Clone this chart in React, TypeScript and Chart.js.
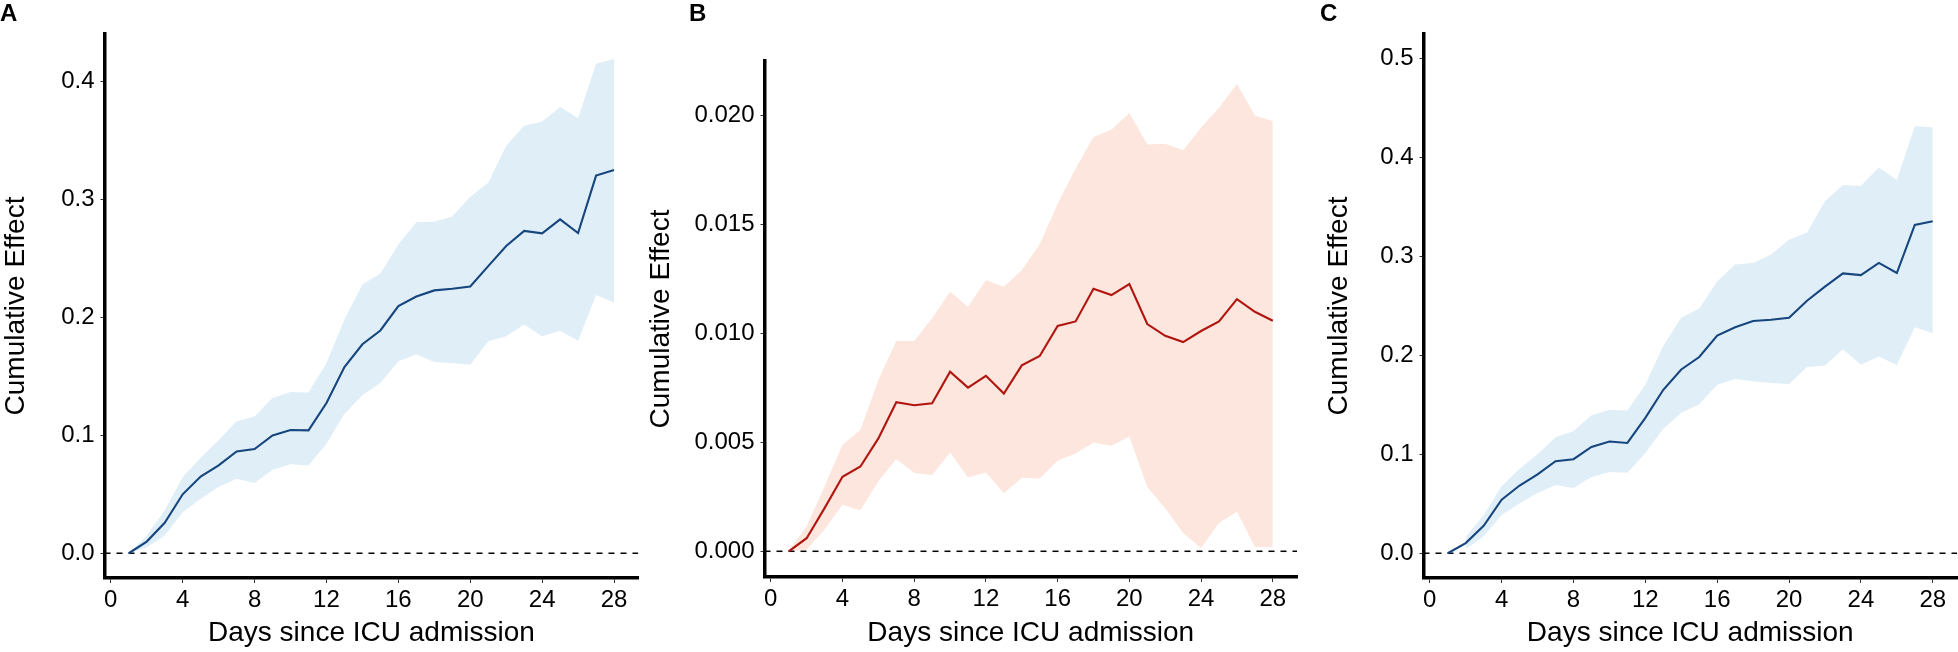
import React, { useEffect, useRef } from 'react';
import { Chart, registerables } from 'chart.js';

Chart.register(...registerables);

// ---------------- data ----------------
const DAYS = [1, 2, 3, 4, 5, 6, 7, 8, 9, 10, 11, 12, 13, 14, 15, 16, 17, 18, 19, 20, 21, 22, 23, 24, 25, 26, 27, 28];
const X_TICKS = [0, 4, 8, 12, 16, 20, 24, 28];
const X_MIN = -0.35;
const X_MAX = 29.35;

const A_EST = [0, 0.0099, 0.0258, 0.050, 0.065, 0.0745, 0.0864, 0.0884, 0.100, 0.1045, 0.1042, 0.1275, 0.158, 0.1773, 0.189, 0.2096, 0.2178, 0.223, 0.2244, 0.2263, 0.2436, 0.2606, 0.2734, 0.2714, 0.2833, 0.2717, 0.3204, 0.3252];
const A_UP = [0, 0.015, 0.0363, 0.0646, 0.081, 0.0958, 0.1119, 0.1161, 0.1317, 0.1368, 0.1363, 0.1615, 0.1983, 0.228, 0.2374, 0.262, 0.2807, 0.2813, 0.2856, 0.3025, 0.3144, 0.3456, 0.3626, 0.3663, 0.3785, 0.3691, 0.4153, 0.4193];
const A_LO = [0, 0.005, 0.015, 0.0348, 0.0462, 0.0561, 0.0632, 0.0595, 0.0708, 0.0754, 0.0745, 0.0929, 0.1184, 0.134, 0.1445, 0.1629, 0.1688, 0.1623, 0.1615, 0.16, 0.1799, 0.1841, 0.194, 0.1841, 0.1887, 0.1802, 0.219, 0.2127];
const A_Y_TICKS = [0, 0.1, 0.2, 0.3, 0.4];

const B_EST = [0, 0.0006, 0.00198, 0.00342, 0.00389, 0.00518, 0.00684, 0.0067, 0.00679, 0.00824, 0.00751, 0.00805, 0.00724, 0.00853, 0.00896, 0.01034, 0.01055, 0.01205, 0.01176, 0.01226, 0.01043, 0.00989, 0.0096, 0.01011, 0.01055, 0.01157, 0.01099, 0.01058];
const B_UP = [0, 0.00115, 0.00298, 0.00489, 0.00557, 0.00786, 0.00965, 0.00965, 0.01069, 0.01191, 0.01122, 0.01244, 0.01214, 0.0129, 0.01409, 0.01595, 0.01756, 0.01901, 0.01934, 0.02011, 0.01867, 0.0187, 0.0184, 0.01944, 0.02035, 0.02145, 0.02, 0.01973];
const B_LO = [0, 0.00008, 0.001, 0.00214, 0.00188, 0.00321, 0.00423, 0.00359, 0.0035, 0.00453, 0.00339, 0.00362, 0.00266, 0.00337, 0.00334, 0.00417, 0.00449, 0.00499, 0.00484, 0.00527, 0.00295, 0.00198, 0.00084, 0.00015, 0.0013, 0.00183, 0.0002, 0.00018];
const B_Y_TICKS = [0, 0.005, 0.01, 0.015, 0.02];

const C_EST = [0, 0.0103, 0.0277, 0.054, 0.0684, 0.0796, 0.093, 0.095, 0.1073, 0.1128, 0.1114, 0.1367, 0.1651, 0.1856, 0.1982, 0.2198, 0.2283, 0.2345, 0.2358, 0.2379, 0.255, 0.2693, 0.2826, 0.2809, 0.2932, 0.283, 0.3315, 0.3353];
const C_UP = [null, 0.0164, 0.0386, 0.0677, 0.0854, 0.1001, 0.1172, 0.1234, 0.1394, 0.1446, 0.1442, 0.1702, 0.2095, 0.2379, 0.2471, 0.2744, 0.2915, 0.2932, 0.3018, 0.3165, 0.324, 0.3554, 0.3718, 0.3708, 0.3896, 0.377, 0.4316, 0.4299];
const C_LO = [null, 0.0044, 0.0171, 0.0386, 0.0506, 0.0608, 0.069, 0.066, 0.0769, 0.082, 0.0813, 0.1012, 0.1258, 0.1418, 0.1504, 0.1702, 0.176, 0.1736, 0.1719, 0.1709, 0.188, 0.1897, 0.2061, 0.1907, 0.1986, 0.19, 0.2283, 0.2221];
const C_Y_TICKS = [0, 0.1, 0.2, 0.3, 0.4, 0.5];

const X_TITLE = 'Days since ICU admission';
const Y_TITLE = 'Cumulative Effect';

// ---------------- layout / style ----------------
const W = 1958;
const H = 652;
const FONT = '"Liberation Sans", Arial, Helvetica, sans-serif';

const BLUE_LINE = '#17467f';
const BLUE_FILL = '#dfeef7';
const RED_LINE = '#b0160f';
const RED_FILL = '#fde6dd';

type PanelCfg = {
  letter: string;
  est: (number | null)[];
  up: (number | null)[];
  lo: (number | null)[];
  yTicks: number[];
  yMin: number;
  yMax: number;
  dec: number;
  line: string;
  fill: string;
  axisLeft: number;
  axisRight: number;
  plotTop: number;
  plotBottom: number;
  yTitleX: number;
  letterX: number;
};

const PANELS: PanelCfg[] = [
  { letter: 'A', est: A_EST, up: A_UP, lo: A_LO, yTicks: A_Y_TICKS, yMin: -0.021, yMax: 0.4405, dec: 1, line: BLUE_LINE, fill: BLUE_FILL,
    axisLeft: 104.5, axisRight: 638.3, plotTop: 34, plotBottom: 578, yTitleX: 16, letterX: 0 },
  { letter: 'B', est: B_EST, up: B_UP, lo: B_LO, yTicks: B_Y_TICKS, yMin: -0.00118, yMax: 0.0225, dec: 3, line: RED_LINE, fill: RED_FILL,
    axisLeft: 764.5, axisRight: 1297, plotTop: 61, plotBottom: 577, yTitleX: 661, letterX: 689 },
  { letter: 'C', est: C_EST, up: C_UP, lo: C_LO, yTicks: C_Y_TICKS, yMin: -0.025, yMax: 0.5244, dec: 1, line: BLUE_LINE, fill: BLUE_FILL,
    axisLeft: 1423.5, axisRight: 1957, plotTop: 34, plotBottom: 578, yTitleX: 1339, letterX: 1320 },
];

const X_TITLE_CENTER_Y = 633;

function Panel({ cfg }: { cfg: PanelCfg }) {
  const ref = useRef<HTMLCanvasElement>(null);
  useEffect(() => {
    const half = (28 * 1.2) / 2;
    const padLeft = cfg.yTitleX - half;
    const chart = new Chart(ref.current as HTMLCanvasElement, {
      type: 'line',
      data: {
        datasets: [
          {
            label: 'upper',
            data: DAYS.map((d, i) => ({ x: d, y: cfg.up[i] })) as any,
            borderWidth: 0,
            borderColor: 'rgba(0,0,0,0)',
            pointRadius: 0,
            backgroundColor: cfg.fill,
            fill: '+1',
            spanGaps: false,
            order: 3,
          },
          {
            label: 'lower',
            data: DAYS.map((d, i) => ({ x: d, y: cfg.lo[i] })) as any,
            borderWidth: 0,
            borderColor: 'rgba(0,0,0,0)',
            pointRadius: 0,
            fill: false,
            spanGaps: false,
            order: 3,
          },
          {
            label: 'zero',
            data: [{ x: X_MIN, y: 0 }, { x: X_MAX, y: 0 }],
            borderColor: '#000',
            borderWidth: 1.5,
            borderDash: [6, 6],
            pointRadius: 0,
            fill: false,
            order: 2,
          },
          {
            label: 'estimate',
            data: DAYS.map((d, i) => ({ x: d, y: cfg.est[i] })) as any,
            borderColor: cfg.line,
            borderWidth: 2.1,
            pointRadius: 0,
            fill: false,
            tension: 0,
            order: 1,
          },
        ],
      },
      options: {
        animation: false,
        responsive: false,
        events: [],
        layout: { padding: { left: padLeft, top: cfg.plotTop, right: W - cfg.axisRight, bottom: 0 } },
        plugins: { legend: { display: false }, tooltip: { enabled: false } },
        scales: {
          x: {
            type: 'linear',
            min: X_MIN,
            max: X_MAX,
            afterBuildTicks: (s: any) => { s.ticks = X_TICKS.map((v) => ({ value: v })); },
            afterFit: (s: any) => { s.height = H - cfg.plotBottom; },
            ticks: {
              autoSkip: false,
              maxRotation: 0,
              minRotation: 0,
              color: '#000',
              padding: 3,
              font: { family: FONT, size: 24 },
              callback: (v: any) => String(v),
            },
            grid: { display: true, drawOnChartArea: false, tickLength: 5, color: '#333', lineWidth: 1 },
            border: { display: true, color: '#000', width: 3.5 },
            title: {
              display: true,
              text: X_TITLE,
              color: '#000',
              font: { family: FONT, size: 28 },
              padding: { top: 0, bottom: H - X_TITLE_CENTER_Y - half },
            },
          },
          y: {
            type: 'linear',
            min: cfg.yMin,
            max: cfg.yMax,
            afterBuildTicks: (s: any) => { s.ticks = cfg.yTicks.map((v) => ({ value: v })); },
            afterFit: (s: any) => { s.width = cfg.axisLeft - padLeft; },
            ticks: {
              autoSkip: false,
              color: '#000',
              padding: 6,
              font: { family: FONT, size: 24 },
              callback: (v: any) => Number(v).toFixed(cfg.dec),
            },
            grid: { display: true, drawOnChartArea: false, tickLength: 4, color: '#333', lineWidth: 1 },
            border: { display: true, color: '#000', width: 3.5 },
            title: {
              display: true,
              text: Y_TITLE,
              color: '#000',
              font: { family: FONT, size: 28 },
              padding: { top: 0, bottom: 0 },
            },
          },
        },
      },
    });
    return () => chart.destroy();
  }, [cfg]);
  return (
    <canvas
      ref={ref}
      width={W}
      height={H}
      style={{ position: 'absolute', left: 0, top: 0, width: W, height: H }}
    />
  );
}

export default function App() {
  useEffect(() => {
    document.body.style.margin = '0';
    document.body.style.overflow = 'hidden';
  }, []);
  return (
    <div style={{ position: 'relative', width: W, height: H, background: '#fff', overflow: 'hidden' }}>
      {PANELS.map((p) => (
        <Panel key={p.letter} cfg={p} />
      ))}
      {PANELS.map((p) => (
        <div
          key={'L' + p.letter}
          style={{
            position: 'absolute',
            left: p.letterX,
            top: 1,
            fontFamily: FONT,
            fontWeight: 'bold',
            fontSize: 24,
            lineHeight: 1,
            color: '#000',
          }}
        >
          {p.letter}
        </div>
      ))}
    </div>
  );
}
